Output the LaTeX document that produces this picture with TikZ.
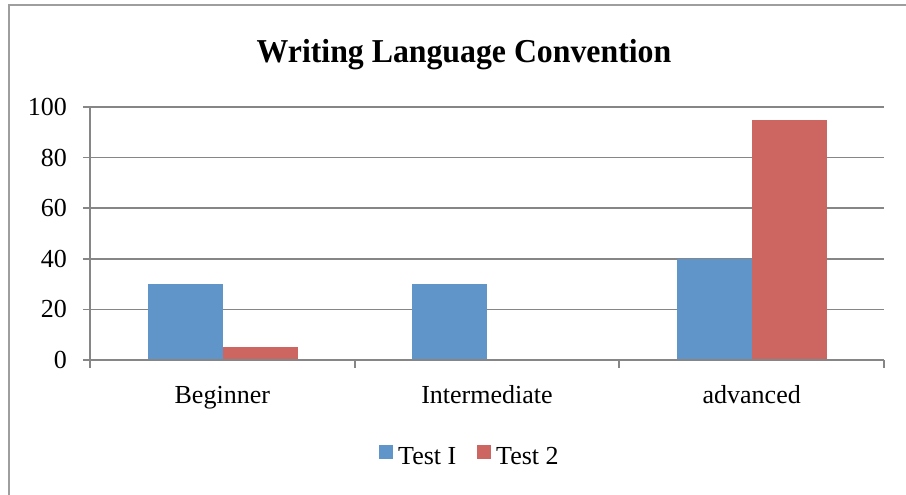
\documentclass[tikz,border=0pt]{standalone}
\usepackage{fontspec}
\setmainfont{Liberation Serif}
\definecolor{barblue}{RGB}{96,149,201}
\definecolor{barred}{RGB}{205,102,96}
\definecolor{gridgray}{RGB}{134,134,134}
\begin{document}
\begin{tikzpicture}[x=1pt,y=-1pt,
  grid/.style={draw=gridgray,line width=1.7pt},
  frame/.style={draw=gridgray!80,line width=1.8pt},
  ticklbl/.style={anchor=east,font=\fontsize{26}{26}\selectfont,inner sep=0pt},
  catlbl/.style={anchor=base,font=\fontsize{26}{26}\selectfont,inner sep=0pt},
  leglbl/.style={anchor=base west,font=\fontsize{26}{26}\selectfont,inner sep=0pt},
  bluebar/.style={fill=barblue},
  redbar/.style={fill=barred}]
\useasboundingbox (0,0) rectangle (906,495);
\fill[white] (0,0) rectangle (906,495);
% frame (top and left edges visible)
\draw[frame] (9,495) -- (9,5) -- (906,5);
% title
\node[anchor=base,font=\bfseries\fontsize{31.8}{32}\selectfont,inner sep=0pt,yscale=1.05] (title) at (464,63) {Writing Language Convention};
% grid lines and y ticks
\foreach \v/\name in {0/y0,20/y20,40/y40,60/y60,80/y80,100/y100}{
  \pgfmathsetmacro{\yy}{360-2.53*\v}
  \draw[grid] (83,\yy) -- (884,\yy);
  \node[ticklbl] (\name) at (67,\yy) {\v};
}
% y axis
\draw[grid] (90,106.7) -- (90,360);
% x axis ticks
\foreach \xx in {90,354.7,619.3,884}{
  \draw[grid] (\xx,360) -- (\xx,368);
}
% bars
\fill[bluebar] (148,360) rectangle (223,{360-2.53*30});
\fill[redbar]  (223,360) rectangle (298,{360-2.53*5});
\fill[bluebar] (412,360) rectangle (487,{360-2.53*30});
\fill[bluebar] (677,360) rectangle (752,{360-2.53*40});
\fill[redbar]  (752,360) rectangle (827,{360-2.53*95});
% redraw baseline over bars
\draw[grid] (90,360) -- (884,360);
% category labels
\node[catlbl] (cat1) at (222.3,403) {Beginner};
\node[catlbl] (cat2) at (487,403) {Intermediate};
\node[catlbl] (cat3) at (751.7,403) {advanced};
% legend
\fill[bluebar] (379,445) rectangle (393,459);
\node[leglbl] (leg1) at (398,464) {Test I};
\fill[redbar] (477,445) rectangle (491,459);
\node[leglbl] (leg2) at (496,464) {Test 2};
\end{tikzpicture}
\end{document}
